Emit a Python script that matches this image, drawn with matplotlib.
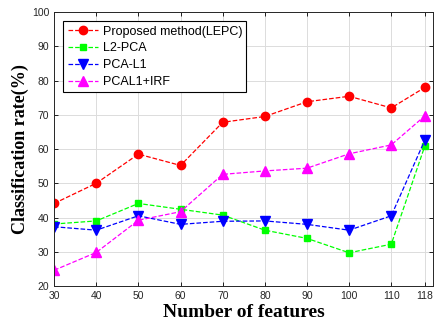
import numpy as np
import matplotlib
matplotlib.use("Agg")
import matplotlib.pyplot as plt

features = [30, 40, 50, 60, 70, 80, 90, 100, 110, 118]
lepc = [44.1, 50.0, 58.5, 55.2, 67.8, 69.5, 73.8, 75.4, 72.0, 78.0]
l2pca = [38.1, 39.0, 44.1, 42.4, 40.7, 36.3, 33.9, 29.7, 32.2, 61.0]
pcal1 = [37.3, 36.3, 40.5, 38.0, 38.9, 39.0, 38.0, 36.3, 40.5, 62.7]
pcal1_irf = [24.6, 29.8, 39.2, 41.7, 52.6, 53.6, 54.4, 58.6, 61.2, 69.7]
xticks = [30, 40, 50, 60, 70, 80, 90, 100, 110, 118]

fig = plt.figure(figsize=(4.4, 3.25), dpi=100)
ax = fig.add_axes([0.123, 0.12, 0.862, 0.843])

ax.plot(features, lepc, '--o', color='red', lw=0.9, ms=6, label='Proposed method(LEPC)')
ax.plot(features, l2pca, '--s', color='#00ff00', lw=0.9, ms=5, label='L2-PCA')
ax.plot(features, pcal1, '--v', color='blue', lw=0.9, ms=7, label='PCA-L1')
ax.plot(features, pcal1_irf, '--^', color='magenta', lw=0.9, ms=7, label='PCAL1+IRF')

ax.set_xlim(30, 120)
ax.set_ylim(20, 100)
ax.set_xticks(xticks)
ax.set_yticks(np.arange(20, 101, 10))
ax.tick_params(direction='in', top=True, right=True, labelsize=7.5, length=3, width=0.6,
               labelcolor='#262626')
for lab in ax.get_xticklabels() + ax.get_yticklabels():
    lab.set_fontfamily('Liberation Sans')
ax.grid(True, color='#dcdcdc', lw=0.7)
ax.set_axisbelow(True)
for s in ax.spines.values():
    s.set_linewidth(0.7)
    s.set_color('#262626')

ax.set_xlabel('Number of features', fontfamily='Liberation Serif', fontweight='bold', fontsize=14, labelpad=2)
ax.set_ylabel('Classification rate(%)', fontfamily='Liberation Serif', fontweight='bold', fontsize=13, labelpad=2)

leg = ax.legend(loc='upper left', bbox_to_anchor=(0.024, 0.966), borderaxespad=0, fancybox=False,
                edgecolor='black', prop={'family': 'Liberation Sans', 'size': 9}, handlelength=2.4,
                borderpad=0.35, labelspacing=0.38, handletextpad=0.4, framealpha=1)
leg.get_frame().set_linewidth(0.8)

fig.savefig('out.png', dpi=100)
